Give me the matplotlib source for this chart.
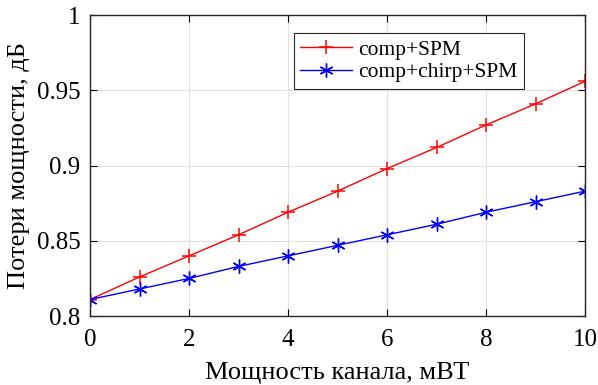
import numpy as np
import matplotlib.pyplot as plt

plt.rcParams['font.family'] = ['Liberation Serif', 'DejaVu Serif']

# channel power, mW
power = np.arange(0, 11)
# power loss, dB
loss_spm = [0.811, 0.826, 0.840, 0.854, 0.869, 0.883, 0.898, 0.912, 0.927, 0.941, 0.956]
loss_chirp_spm = [0.811, 0.818, 0.825, 0.833, 0.840, 0.847, 0.854, 0.861, 0.869, 0.876, 0.883]

fig = plt.figure(figsize=(5.98, 3.85), dpi=100)
ax = fig.add_axes([0.1505, 0.179, 0.828, 0.782])

ax.plot(power, loss_spm, color='red', marker='+', markersize=10, markeredgewidth=1.1,
        linewidth=1.0, label='comp+SPM')
ax.plot(power, loss_chirp_spm, color='blue', marker=(6, 2, 0), markersize=10,
        markeredgewidth=1.0, linewidth=1.0, label='comp+chirp+SPM')

ax.set_xlim(0, 10)
ax.set_ylim(0.8, 1.0)
ax.set_xticks([0, 2, 4, 6, 8, 10])
ax.set_yticks([0.8, 0.85, 0.9, 0.95, 1.0])
ax.set_yticklabels(['0.8', '0.85', '0.9', '0.95', '1'])
ax.grid(True, color='#e0e0e0', linewidth=0.8)
ax.set_axisbelow(True)
ax.tick_params(direction='in', top=True, right=True, labelsize=18, length=5, pad=7)
ax.tick_params(axis='x', pad=9)
for s in ax.spines.values():
    s.set_linewidth(1.0)
    s.set_color('#262626')

ax.set_xlabel('Мощность канала, мВТ', fontsize=19, labelpad=8)
ax.set_ylabel('Потери мощности, дБ', fontsize=19, labelpad=5)

leg = ax.legend(loc='upper left', bbox_to_anchor=(0.412, 0.94), borderaxespad=0,
                fontsize=15.5, fancybox=False, framealpha=1, edgecolor='#262626',
                handlelength=2.4, handletextpad=0.3, borderpad=0.3, labelspacing=0.12)
leg.get_frame().set_linewidth(0.8)

fig.savefig('out.png', dpi=100)
